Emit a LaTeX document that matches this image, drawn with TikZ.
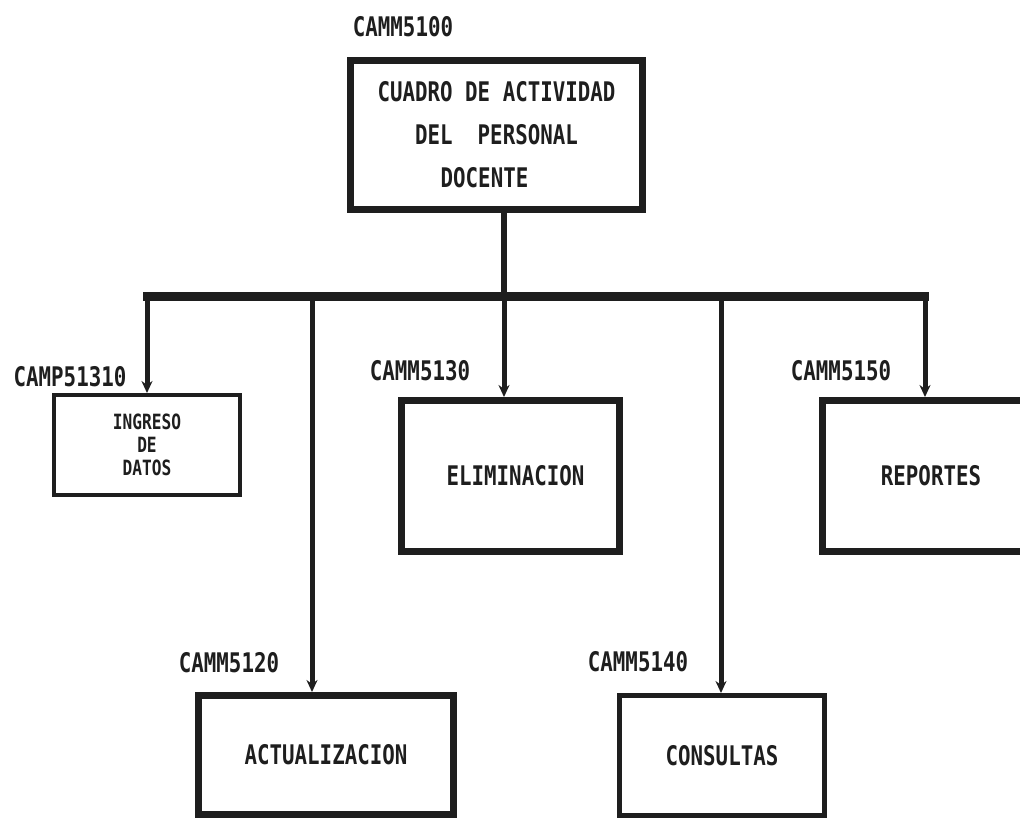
\documentclass[tikz,border=0pt]{standalone}
\usepackage{fontspec}
\usetikzlibrary{arrows.meta}
\newfontfamily\dotfont[FakeStretch=0.77]{DejaVu Sans Mono}
\definecolor{ink}{HTML}{1E1E1E}
\begin{document}
\begin{tikzpicture}[x=1pt,y=-1pt,
  txt/.style={font=\dotfont\bfseries\fontsize{27}{43}\selectfont, text=ink},
  lbl/.style={txt, inner sep=0pt},
  box/.style={draw=ink, line width=7pt, fill=none, txt, align=center, inner sep=0pt},
  bus/.style={draw=ink, line width=9pt},
  drop/.style={draw=ink, line width=5pt, -{Stealth[length=12pt,width=11pt]}},
  stem/.style={draw=ink, line width=6pt}]
\useasboundingbox (0,0) rectangle (1020,824);
\clip (0,0) rectangle (1020,824);
\fill[white] (0,0) rectangle (1020,824);

% boxes
\node[box, minimum width=292pt, minimum height=149pt] (top) at (496.5,135)
  {CUADRO DE ACTIVIDAD\\DEL\ \ PERSONAL\\DOCENTE\hspace*{24pt}};
\node[box, line width=4pt, minimum width=186pt, minimum height=100pt,
  font=\dotfont\bfseries\fontsize{21}{23}\selectfont] (ing) at (147,445)
  {INGRESO\\DE\\DATOS};
\node[box, minimum width=218pt, minimum height=151pt] (eli) at (510.5,476) {\hspace*{10pt}ELIMINACION};
\node[box, minimum width=217pt, minimum height=151pt] (rep) at (931,476) {REPORTES};
\node[box, minimum width=255pt, minimum height=119pt] (act) at (326,755) {ACTUALIZACION};
\node[box, line width=5pt, minimum width=205pt, minimum height=120pt] (con) at (722,755.5) {CONSULTAS};

% labels
\node[lbl] (l100) at (403,27) {CAMM5100};
\node[lbl] (l1310) at (70,377) {CAMP51310};
\node[lbl] (l130) at (420,371) {CAMM5130};
\node[lbl] (l150) at (841,371) {CAMM5150};
\node[lbl] (l120) at (229,663) {CAMM5120};
\node[lbl] (l140) at (638,662) {CAMM5140};

% bus coordinates
\coordinate (j) at (504,296);
\coordinate (bl) at (147,296);
\coordinate (br) at (925,296);
\coordinate (ja) at (312,296);
\coordinate (jc) at (721,296);

% connectors
\draw[stem] (top.south -| j) -- (j);
\draw[bus] ([xshift=-4pt]bl) -- ([xshift=4pt]br);
\draw[drop] (bl) -- (ing.north);
\draw[drop] (ja) -- (ja |- act.north);
\draw[drop] (j) -- (j |- eli.north);
\draw[drop] (jc) -- (jc |- con.north);
\draw[drop] (br) -- (br |- rep.north);
\end{tikzpicture}
\end{document}
